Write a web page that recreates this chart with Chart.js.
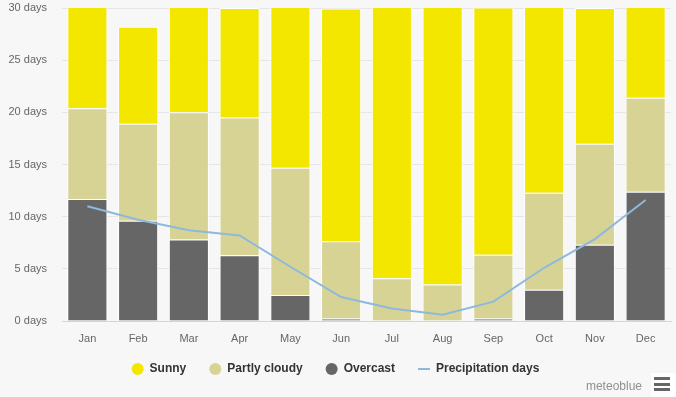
<!DOCTYPE html>
<html>
<head>
<meta charset="utf-8">
<script src="https://cdn.jsdelivr.net/npm/chart.js@4"></script>
<style>
  html, body { margin: 0; padding: 0; background: #f7f7f7; }
  #wrap { position: relative; width: 676px; height: 397px; }
  #credit {
    position: absolute; right: 34px; top: 379px;
    font: 12px "Liberation Sans", Arial, sans-serif; color: #909090;
  }
  #menu {
    position: absolute; left: 651px; top: 373px; width: 25px; height: 24px; background: #fff;
  }
  #menu span {
    position: absolute; left: 3px; width: 16px; height: 3px; background: #666;
  }
</style>
</head>
<body>
<div id="wrap">
  <canvas id="chart" width="676" height="397"></canvas>
  <div id="credit">meteoblue</div>
  <div id="menu"><span style="top:4px"></span><span style="top:9.5px"></span><span style="top:15px"></span></div>
</div>
<script>
// --- values (days per month) ---
const months = ['Jan', 'Feb', 'Mar', 'Apr', 'May', 'Jun', 'Jul', 'Aug', 'Sep', 'Oct', 'Nov', 'Dec'];
const overcast = [11.7, 9.6, 7.8, 6.3, 2.5, 0.25, 0, 0, 0.25, 3.0, 7.3, 12.4];
const partlyCloudy = [8.7, 9.3, 12.2, 13.2, 12.2, 7.4, 4.1, 3.5, 6.1, 9.3, 9.7, 9.0];
const sunny = [10.6, 9.3, 11.0, 10.5, 16.3, 22.3, 26.9, 27.5, 23.7, 18.7, 13.0, 9.6];
const precipDays = [11.0, 9.7, 8.7, 8.2, 5.2, 2.3, 1.2, 0.6, 1.85, 5.1, 7.85, 11.6];
const yTicks = [0, 5, 10, 15, 20, 25, 30];

const COLORS = {
    sunny: '#f3e700',
    partly: '#d7d394',
    overcast: '#666666',
    precip: '#8fb8de'
};
const legendRank = ['Sunny', 'Partly cloudy', 'Overcast', 'Precipitation days'];

const barStyle = (color) => ({
    backgroundColor: color,
    borderColor: '#ffffff',
    borderWidth: 1,
    barPercentage: 0.79,
    categoryPercentage: 1,
    pointStyle: 'circle'
});

new Chart(document.getElementById('chart'), {
    type: 'bar',
    data: {
        labels: months,
        datasets: [
            { label: 'Overcast', data: overcast, ...barStyle(COLORS.overcast) },
            { label: 'Partly cloudy', data: partlyCloudy, ...barStyle(COLORS.partly) },
            { label: 'Sunny', data: sunny, ...barStyle(COLORS.sunny) },
            {
                type: 'line', label: 'Precipitation days', data: precipDays, stack: 'precip',
                borderColor: COLORS.precip, backgroundColor: COLORS.precip, borderWidth: 2,
                pointRadius: 0, tension: 0, pointStyle: 'line', order: -1
            }
        ]
    },
    options: {
        responsive: false,
        animation: false,
        layout: { autoPadding: false, padding: { top: 8, right: 5, bottom: 12, left: 0 } },
        scales: {
            x: {
                stacked: true,
                grid: { display: false, drawTicks: false },
                border: { display: true, color: '#ccd6eb', width: 1 },
                ticks: { color: '#666', padding: 11, font: { family: 'Liberation Sans', size: 11 } },
                afterFit: (scale) => {
                    // keep the legend close: shrink the box, but don't clip the month labels
                    scale.height = 19;
                    scale.paddingLeft = 0;
                    scale.paddingRight = 0;
                    scale._computeLabelArea = () => undefined;
                }
            },
            y: {
                stacked: true,
                min: 0,
                max: 30,
                afterBuildTicks: (scale) => { scale.ticks = yTicks.map(v => ({ value: v })); },
                grid: {
                    drawTicks: false,
                    color: (ctx) => ctx.tick && ctx.tick.value === 0 ? 'rgba(0,0,0,0)' : '#e6e6e6'
                },
                border: { display: false },
                ticks: {
                    color: '#666', padding: 15,
                    font: { family: 'Liberation Sans', size: 11 },
                    callback: (v) => `${v} days`
                },
                afterFit: (scale) => {
                    scale.width = 62;
                    scale.paddingTop = 0;
                    scale.paddingBottom = 0;
                }
            }
        },
        plugins: {
            tooltip: { enabled: false },
            legend: {
                position: 'bottom',
                labels: {
                    usePointStyle: true,
                    boxWidth: 12,
                    boxHeight: 8.5,
                    padding: 23,
                    color: '#333',
                    font: { family: 'Liberation Sans', size: 12, weight: 'bold' },
                    sort: (a, b) => legendRank.indexOf(a.text) - legendRank.indexOf(b.text),
                    generateLabels: (chart) => {
                        const items = Chart.defaults.plugins.legend.labels.generateLabels(chart);
                        items.forEach(item => {
                            if (item.pointStyle === 'circle') {
                                item.strokeStyle = item.fillStyle;
                                item.lineWidth = 0;
                            }
                        });
                        return items;
                    }
                }
            }
        }
    }
});
</script>
</body>
</html>
